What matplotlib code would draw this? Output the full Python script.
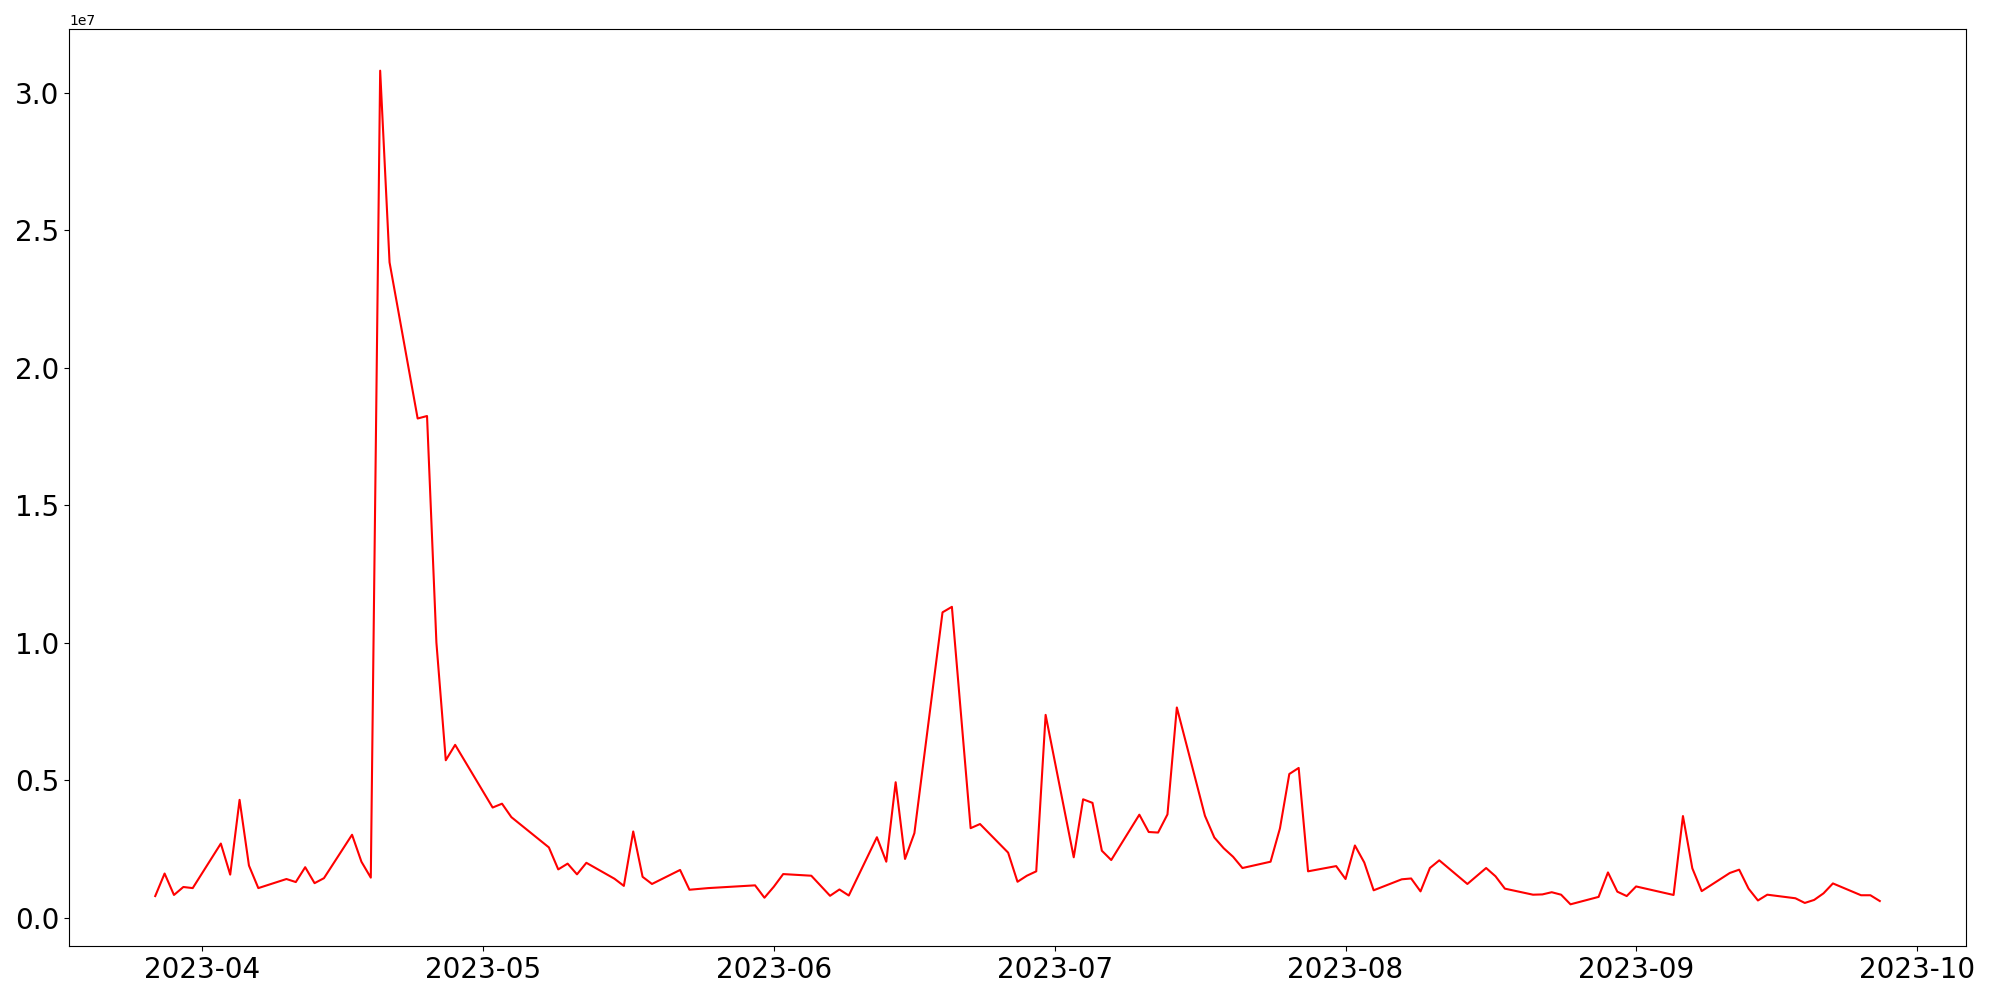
import numpy as np
import pandas as pd
import matplotlib
matplotlib.use("Agg")
import matplotlib.pyplot as plt

# Fechas de cada observacion (dias habiles)
fechas = [
    "2023-03-27", "2023-03-28", "2023-03-29", "2023-03-30", "2023-03-31",
    "2023-04-03", "2023-04-04", "2023-04-05", "2023-04-06", "2023-04-07",
    "2023-04-10", "2023-04-11", "2023-04-12", "2023-04-13", "2023-04-14",
    "2023-04-17", "2023-04-18", "2023-04-19", "2023-04-20", "2023-04-21",
    "2023-04-24", "2023-04-25", "2023-04-26", "2023-04-27", "2023-04-28",
    "2023-05-02", "2023-05-03", "2023-05-04",
    "2023-05-08", "2023-05-09", "2023-05-10", "2023-05-11", "2023-05-12",
    "2023-05-15", "2023-05-16", "2023-05-17", "2023-05-18", "2023-05-19",
    "2023-05-22", "2023-05-23", "2023-05-25", "2023-05-30", "2023-05-31",
    "2023-06-01", "2023-06-02", "2023-06-05", "2023-06-07", "2023-06-08", "2023-06-09",
    "2023-06-12", "2023-06-13", "2023-06-14", "2023-06-15", "2023-06-16",
    "2023-06-19", "2023-06-20", "2023-06-22", "2023-06-23",
    "2023-06-26", "2023-06-27", "2023-06-28", "2023-06-29", "2023-06-30",
    "2023-07-03", "2023-07-04", "2023-07-05", "2023-07-06", "2023-07-07",
    "2023-07-10", "2023-07-11", "2023-07-12", "2023-07-13", "2023-07-14",
    "2023-07-17", "2023-07-18", "2023-07-19", "2023-07-20", "2023-07-21",
    "2023-07-24", "2023-07-25", "2023-07-26", "2023-07-27", "2023-07-28",
    "2023-07-31", "2023-08-01", "2023-08-02", "2023-08-03", "2023-08-04",
    "2023-08-07", "2023-08-08", "2023-08-09", "2023-08-10", "2023-08-11",
    "2023-08-14", "2023-08-16", "2023-08-17", "2023-08-18",
    "2023-08-21", "2023-08-22", "2023-08-23", "2023-08-24", "2023-08-25",
    "2023-08-28", "2023-08-29", "2023-08-30", "2023-08-31", "2023-09-01",
    "2023-09-05", "2023-09-06", "2023-09-07", "2023-09-08",
    "2023-09-11", "2023-09-12", "2023-09-13", "2023-09-14", "2023-09-15",
    "2023-09-18", "2023-09-19", "2023-09-20", "2023-09-21", "2023-09-22",
    "2023-09-25", "2023-09-26", "2023-09-27",
]

# Valores en millones
valores_m = [
    0.78, 1.60, 0.82, 1.11, 1.07,
    2.69, 1.56, 4.28, 1.89, 1.07,
    1.40, 1.29, 1.83, 1.25, 1.43,
    3.01, 2.03, 1.45, 30.8, 23.83,
    18.15, 18.24, 10.0, 5.72, 6.28,
    4.00, 4.14, 3.65,
    2.55, 1.75, 1.96, 1.57, 1.99,
    1.41, 1.15, 3.13, 1.48, 1.22,
    1.73, 1.01, 1.07, 1.17, 0.72,
    1.12, 1.58, 1.52, 0.79, 1.02, 0.80,
    2.92, 2.03, 4.92, 2.13, 3.07,
    11.1, 11.3, 3.25, 3.40,
    2.36, 1.30, 1.52, 1.68, 7.37,
    2.19, 4.30, 4.17, 2.43, 2.09,
    3.74, 3.11, 3.09, 3.75, 7.64,
    3.70, 2.91, 2.52, 2.21, 1.80,
    2.03, 3.24, 5.22, 5.44, 1.68,
    1.87, 1.40, 2.62, 2.00, 0.99,
    1.39, 1.42, 0.95, 1.80, 2.08,
    1.22, 1.80, 1.50, 1.05,
    0.83, 0.84, 0.92, 0.83, 0.48,
    0.75, 1.64, 0.94, 0.78, 1.13,
    0.82, 3.69, 1.79, 0.96,
    1.62, 1.74, 1.05, 0.62, 0.83,
    0.70, 0.53, 0.64, 0.88, 1.24,
    0.81, 0.81, 0.60,
]

df = pd.DataFrame({"fecha": pd.to_datetime(fechas), "valor": np.array(valores_m) * 1e6})

# Crear la grafica
plt.figure(figsize=(20, 10), dpi=100)
plt.plot(df["fecha"], df["valor"], color="red", linewidth=1.5)

plt.xticks(fontsize=20)
plt.yticks(fontsize=20)

plt.subplots_adjust(left=0.0345, right=0.983, bottom=0.054, top=0.971)
plt.savefig("out.png")
